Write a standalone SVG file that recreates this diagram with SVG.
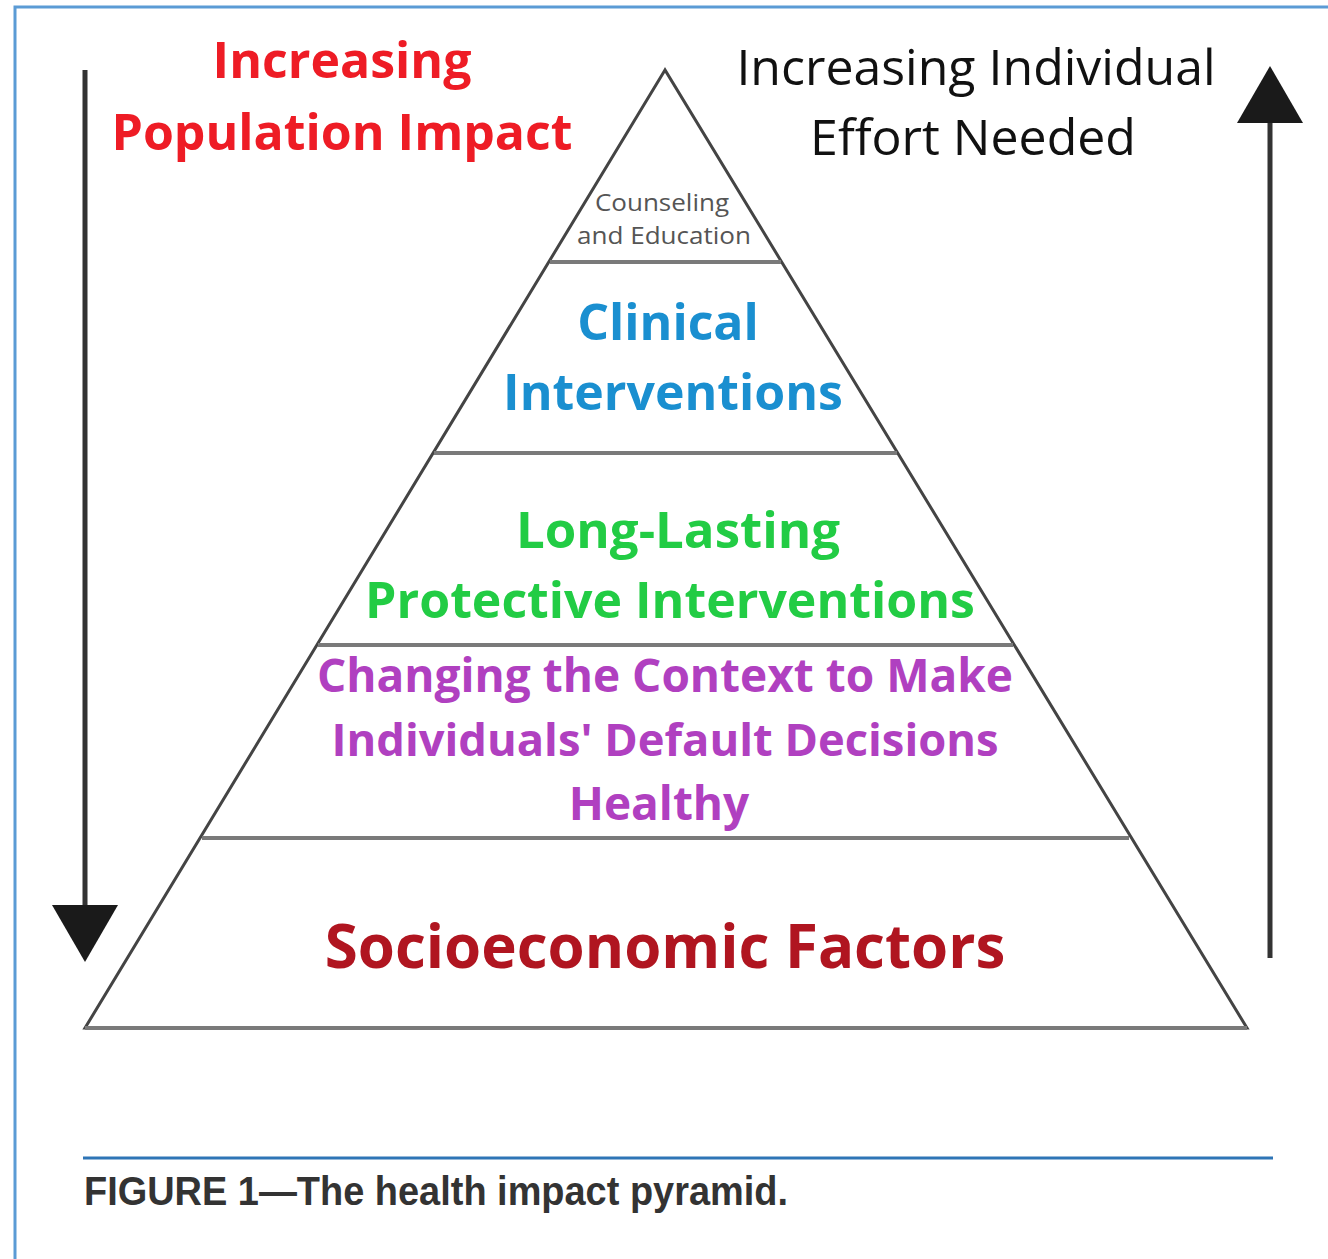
<svg xmlns="http://www.w3.org/2000/svg" width="1328" height="1259" viewBox="0 0 1328 1259">
<style>
.b{font-family:"Open Sans","Noto Sans",sans-serif;font-weight:700;text-anchor:middle}
.n{font-family:"Open Sans","Noto Sans",sans-serif;font-weight:400;text-anchor:middle}
.div{stroke:#7a7a7a;stroke-width:4}
</style>
<rect width="1328" height="1259" fill="#fff"/>
<path d="M15,1259 V7 H1328" fill="none" stroke="#5b9bd5" stroke-width="3"/>
<g id="connectors">
<line x1="85" y1="70" x2="85" y2="910" stroke="#333" stroke-width="5"/>
<polygon points="52,905 118,905 85,962" fill="#1a1a1a"/>
<line x1="1270" y1="958" x2="1270" y2="118" stroke="#333" stroke-width="5"/>
<polygon points="1237,123 1303,123 1270,66" fill="#1a1a1a"/>
</g>
<g id="pyramid">
<polygon points="665,70 85,1028 1247,1028" fill="none" stroke="#444" stroke-width="3"/>
<line class="div" x1="550" y1="262" x2="781" y2="262"/>
<line class="div" x1="434" y1="453" x2="897" y2="453"/>
<line class="div" x1="318" y1="645" x2="1013" y2="645"/>
<line class="div" x1="202" y1="838" x2="1129" y2="838"/>
<line class="div" x1="85" y1="1028" x2="1247" y2="1028"/>
</g>
<g id="label-population">
<text class="b" x="342" y="78" font-size="50" fill="#ee1c25">Increasing</text>
<text class="b" x="342" y="150" font-size="50" fill="#ee1c25">Population Impact</text>
</g>
<g id="label-effort">
<text class="n" x="976" y="85" font-size="50" fill="#111">Increasing Individual</text>
<text class="n" x="973" y="155" font-size="50" fill="#111">Effort Needed</text>
</g>
<g id="node-counseling">
<text class="n" x="662" y="211" font-size="24" fill="#555" textLength="134" lengthAdjust="spacingAndGlyphs">Counseling</text>
<text class="n" x="664" y="244" font-size="24" fill="#555" textLength="174" lengthAdjust="spacingAndGlyphs">and Education</text>
</g>
<g id="node-clinical">
<text class="b" x="668" y="340" font-size="50" fill="#1a8fd0">Clinical</text>
<text class="b" x="673" y="410" font-size="50" fill="#1a8fd0">Interventions</text>
</g>
<g id="node-protective">
<text class="b" x="678" y="548" font-size="51" fill="#22cc44">Long-Lasting</text>
<text class="b" x="670" y="618" font-size="50" fill="#22cc44">Protective Interventions</text>
</g>
<g id="node-context">
<text class="b" x="665" y="692" font-size="46" fill="#b040c0">Changing the Context to Make</text>
<text class="b" x="665" y="756" font-size="45.3" fill="#b040c0">Individuals' Default Decisions</text>
<text class="b" x="659" y="820" font-size="46" fill="#b040c0">Healthy</text>
</g>
<g id="node-socioeconomic">
<text class="b" x="665" y="968" font-size="60" fill="#b01520">Socioeconomic Factors</text>
</g>
<g id="caption">
<line x1="83" y1="1158" x2="1273" y2="1158" stroke="#2e75b6" stroke-width="3"/>
<text x="84" y="1205" font-family="Liberation Sans, Arial, sans-serif" font-weight="700" font-size="40" fill="#333" textLength="704" lengthAdjust="spacingAndGlyphs">FIGURE 1—The health impact pyramid.</text>
</g>
</svg>
